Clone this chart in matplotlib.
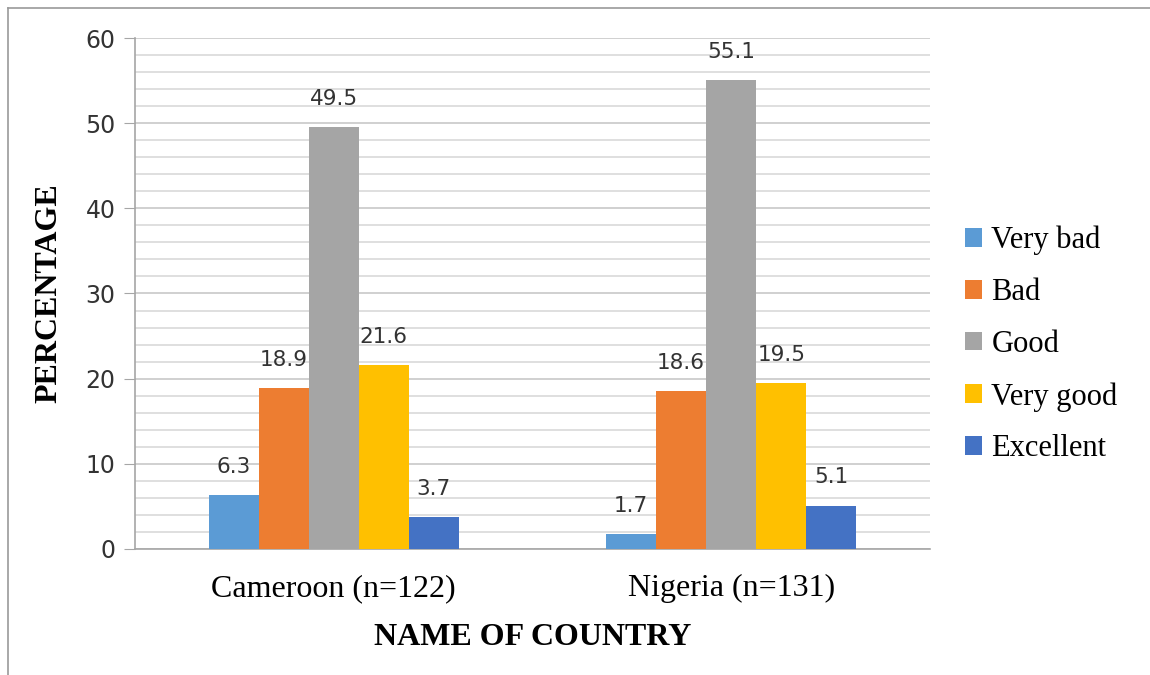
import matplotlib.pyplot as plt
import numpy as np
from matplotlib.ticker import MultipleLocator

countries = ["Cameroon (n=122)", "Nigeria (n=131)"]
ratings = ["Very bad", "Bad", "Good", "Very good", "Excellent"]
very_bad = [6.3, 1.7]
bad = [18.9, 18.6]
good = [49.5, 55.1]
very_good = [21.6, 19.5]
excellent = [3.7, 5.1]
colors = ["#5b9bd5", "#ed7d31", "#a5a5a5", "#ffc000", "#4472c4"]

series = [very_bad, bad, good, very_good, excellent]

fig = plt.figure(figsize=(11.5, 6.75), dpi=100)
ax = fig.add_axes([0.1174, 0.1867, 0.6913, 0.757])

x = np.arange(len(countries))
w = 0.126
for i, (vals, name, c) in enumerate(zip(series, ratings, colors)):
    pos = x + (i - 2) * w
    bars = ax.bar(pos, vals, w, color=c, label=name, zorder=3)
    for b, v in zip(bars, vals):
        ax.annotate(f"{v}", (b.get_x() + b.get_width() / 2, v),
                    xytext=(0, 13), textcoords="offset points",
                    ha="center", va="bottom", fontsize=15.5,
                    family="DejaVu Sans", color="#333333")

ax.set_xlim(-0.5, 1.5)
ax.set_ylim(0, 60)
ax.yaxis.set_major_locator(MultipleLocator(10))
ax.yaxis.set_minor_locator(MultipleLocator(2))
ax.grid(axis="y", which="major", color="#c8c8c8", linewidth=1.2, zorder=0)
ax.grid(axis="y", which="minor", color="#d9d9d9", linewidth=1.2, zorder=0)
ax.set_xticks(x)
ax.set_xticklabels(countries, family="Liberation Serif", fontsize=23)
ax.tick_params(axis="x", length=0, pad=18)
ax.tick_params(axis="y", which="major", length=8, color="#a6a6a6",
               labelsize=17, labelcolor="#333333", pad=6)
ax.tick_params(axis="y", which="minor", length=0)
for s in ["top", "right"]:
    ax.spines[s].set_visible(False)
for s in ["left", "bottom"]:
    ax.spines[s].set_color("#a6a6a6")
    ax.spines[s].set_linewidth(1.2)

ax.set_ylabel("PERCENTAGE", family="Liberation Serif", fontweight="bold",
              fontsize=23, labelpad=16)
ax.set_xlabel("NAME OF COUNTRY", family="Liberation Serif", fontweight="bold",
              fontsize=23, labelpad=14)

ax.legend(loc="center left", bbox_to_anchor=(1.01, 0.40), frameon=False,
          prop={"family": "Liberation Serif", "size": 22},
          handlelength=0.55, handleheight=0.55, handletextpad=0.3,
          labelspacing=0.75)

# outer chart border
fig.add_artist(plt.Line2D([0.007, 1.0], [0.988, 0.988], color="#999999", linewidth=1.2))
fig.add_artist(plt.Line2D([0.007, 0.007], [0.0, 0.988], color="#999999", linewidth=1.2))

fig.savefig("out.png", dpi=100)
